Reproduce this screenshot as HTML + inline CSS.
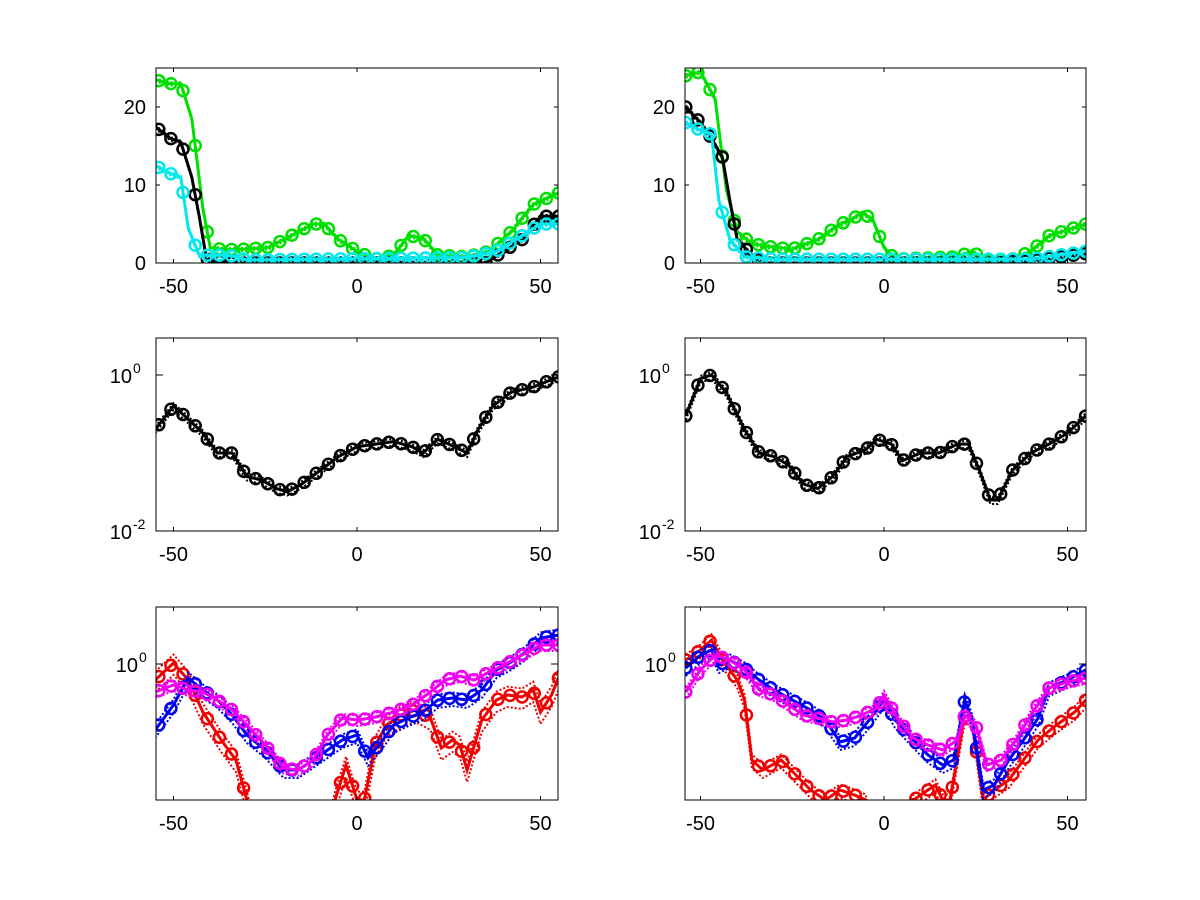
<!DOCTYPE html>
<html><head><meta charset="utf-8"><style>
html,body{margin:0;padding:0;background:#fff;}
svg{display:block;font-family:"Liberation Sans",sans-serif;}
</style></head><body>
<svg id="s" width="1200" height="900" xmlns="http://www.w3.org/2000/svg"></svg>
<script>
const S=document.getElementById('s');let html='';
const cols=[{x0:156,x1:558,c0:357},{x0:685,x1:1086,c0:884}];
const rows=[{y0:68,y1:263},{y0:338,y1:531},{y0:607,y1:800}];
const K=3.67;
function X(c,x){return cols[c].c0+x*K;}
function Yr(r,v){
 if(r==0)return 263-v*7.8;
 if(r==1)return 375-Math.log10(v)*78;
 return v;}
let cid=0;
function series(c,r,pts,color,dotOff){
 const id='cp'+(cid++);
 const C=cols[c],R=rows[r];
 html+=`<clipPath id="${id}"><rect x="${C.x0}" y="${R.y0}" width="${C.x1-C.x0}" height="${R.y1-R.y0}"/></clipPath><g clip-path="url(#${id})">`;
 const P=pts.map(p=>[X(c,p[0]),Yr(r,p[1])]);
 const s=P.map(p=>p[0].toFixed(1)+','+p[1].toFixed(1)).join(' ');
 const s2=P.map(p=>p[0].toFixed(1)+','+(p[1]+dotOff).toFixed(1)).join(' ');
 const s3=P.map(p=>p[0].toFixed(1)+','+(p[1]-dotOff*0.7).toFixed(1)).join(' ');
 html+=`<polyline points="${s2}" fill="none" stroke="${color}" stroke-width="2" stroke-dasharray="2,2"/>`;
 html+=`<polyline points="${s3}" fill="none" stroke="${color}" stroke-width="2" stroke-dasharray="2,2"/>`;
 html+=`<polyline points="${s}" fill="none" stroke="${color}" stroke-width="3"/>`;
 for(let x=-54;x<=55;x+=3.3){
  let y=null;
  for(let i=0;i<pts.length-1;i++){if(x>=pts[i][0]&&x<=pts[i+1][0]){const t=(x-pts[i][0])/(pts[i+1][0]-pts[i][0]);
   const a=Yr(r,pts[i][1]),b=Yr(r,pts[i+1][1]);y=a+(b-a)*t;break;}}
  if(y!==null)html+=`<circle cx="${X(c,x).toFixed(1)}" cy="${y.toFixed(1)}" r="5.5" fill="none" stroke="${color}" stroke-width="2.5"/>`;
 }
 html+='</g>';
}
// row 0
series(0,0,[[-55,23.5],[-51,23],[-48,23],[-45,18.5],[-42,7],[-40,2],[-36,1.7],[-30,1.8],[-24,2],[-18,3.5],[-12,5],[-9,5],[-5,3],[0,1.5],[5,0.5],[10,1],[14,3.5],[18,3.2],[22,1],[30,0.8],[36,1.5],[42,4],[48,7.5],[55,9]],'#00e000',2);
series(0,0,[[-55,17.5],[-51,16],[-48,15.5],[-45,11],[-43,6],[-41,0.5],[-35,0],[35,0],[40,1.5],[45,3],[50,6],[55,6]],'#000',2);
series(0,0,[[-55,12.5],[-51,11.5],[-48,11],[-46,4.5],[-43,1],[-35,1],[-30,0.4],[30,0.7],[38,1.5],[45,3.5],[50,5],[55,5]],'#00e8f0',2);
series(1,0,[[-54,24],[-50,24.5],[-46,21],[-43,9.5],[-40,4],[-36,2.5],[-30,2],[-25,1.8],[-18,3],[-12,5],[-9,5.5],[-6,6.5],[-3,5.5],[0,2],[3,0.5],[20,0.8],[24,1.5],[28,0.3],[35,0.5],[40,1.5],[45,3.5],[55,5]],'#00e000',2);
series(1,0,[[-54,20],[-50,18],[-47,16],[-44,13.5],[-42,8],[-40,3],[-36,1],[-33,0],[30,0],[40,0.3],[55,1.2]],'#000',2);
series(1,0,[[-54,18],[-50,17],[-47,16.5],[-45,8],[-42,3],[-38,0.8],[-30,0.5],[40,0.5],[55,1.5]],'#00e8f0',2);
// row 1
series(0,1,[[-55,0.2],[-50,0.4],[-47,0.3],[-42,0.18],[-38,0.1],[-34,0.1],[-30,0.05],[-26,0.045],[-22,0.035],[-19,0.032],[-15,0.04],[-10,0.06],[-5,0.09],[0,0.12],[5,0.13],[10,0.14],[15,0.12],[18,0.1],[22,0.15],[25,0.13],[30,0.1],[33,0.2],[37,0.4],[42,0.6],[48,0.7],[55,0.95]],'#000',4);
series(1,1,[[-54,0.3],[-50,0.9],[-47,1.0],[-43,0.6],[-38,0.2],[-34,0.1],[-30,0.09],[-26,0.07],[-22,0.04],[-18,0.035],[-14,0.05],[-10,0.09],[-5,0.11],[-2,0.15],[2,0.13],[5,0.08],[10,0.1],[15,0.1],[20,0.13],[23,0.13],[26,0.06],[29,0.025],[31,0.025],[35,0.06],[40,0.1],[45,0.13],[50,0.18],[55,0.3]],'#000',4);
// row 2
series(0,2,[[-55,680],[-50,663],[-46,680],[-42,712],[-37,740],[-33,760],[-30,800],[-28,830],[-8,830],[-6,800],[-3,765],[0,800],[2,800],[5,745],[8,725],[12,715],[16,710],[20,718],[23,748],[26,740],[28,745],[30,770],[34,720],[38,700],[41,695],[45,697],[48,690],[50,712],[53,695],[55,677]],'#f00000',12);
series(0,2,[[-55,730],[-50,705],[-46,678],[-42,690],[-38,700],[-34,715],[-30,735],[-25,750],[-20,770],[-16,770],[-12,760],[-8,750],[-4,740],[0,735],[3,758],[6,745],[10,725],[14,718],[18,712],[22,700],[26,698],[30,700],[34,690],[38,670],[42,662],[46,652],[50,638],[55,635]],'#0000f0',8);
series(0,2,[[-55,692],[-50,685],[-46,690],[-42,692],[-38,700],[-34,710],[-30,725],[-25,745],[-20,768],[-16,770],[-12,760],[-8,735],[-4,718],[0,720],[4,718],[10,712],[15,705],[20,692],[24,680],[28,676],[32,680],[36,672],[40,665],[45,655],[50,645],[55,645]],'#f000f0',6);
series(1,2,[[-54,660],[-50,650],[-47,640],[-44,660],[-40,680],[-38,700],[-36,760],[-33,770],[-28,760],[-24,775],[-20,790],[-16,800],[-12,790],[-8,795],[-5,800],[-3,830],[6,830],[8,800],[12,790],[14,785],[16,800],[18,800],[22,715],[24,720],[27,800],[30,790],[34,780],[38,760],[42,740],[47,725],[52,712],[55,700]],'#f00000',8);
series(1,2,[[-54,668],[-50,655],[-47,650],[-45,665],[-42,660],[-38,668],[-34,680],[-30,690],[-25,700],[-20,710],[-16,720],[-12,742],[-8,738],[-4,720],[0,700],[3,720],[8,740],[12,755],[16,765],[19,760],[22,700],[24,720],[27,790],[30,785],[34,760],[38,740],[42,718],[45,688],[50,680],[55,670]],'#0000f0',8);
series(1,2,[[-54,692],[-50,670],[-46,655],[-42,660],[-38,670],[-34,690],[-30,695],[-26,705],[-22,715],[-18,718],[-14,722],[-10,720],[-6,715],[-2,708],[0,695],[4,720],[8,738],[12,745],[16,750],[20,740],[22,715],[25,725],[28,765],[32,760],[36,740],[40,715],[45,688],[50,682],[55,678]],'#f000f0',6);
// axes
for(let c=0;c<2;c++)for(let r=0;r<3;r++){
 const C=cols[c],R=rows[r];
 html+=`<rect x="${C.x0}" y="${R.y0}" width="${C.x1-C.x0}" height="${R.y1-R.y0}" fill="none" stroke="#000" stroke-width="1"/>`;
 for(const t of [-50,0,50]){const x=X(c,t);
  html+=`<line x1="${x}" y1="${R.y1}" x2="${x}" y2="${R.y1-4}" stroke="#000"/><line x1="${x}" y1="${R.y0}" x2="${x}" y2="${R.y0+4}" stroke="#000"/>`;
  html+=`<text x="${x}" y="${R.y1+30}" font-size="20" text-anchor="middle">${t<0?'-50':t}</text>`;}
 if(r==0){for(const v of [0,10,20]){const y=263-v*7.8;
  html+=`<line x1="${C.x0}" y1="${y}" x2="${C.x0+4}" y2="${y}" stroke="#000"/><line x1="${C.x1}" y1="${y}" x2="${C.x1-4}" y2="${y}" stroke="#000"/>`;
  html+=`<text x="${C.x0-10}" y="${y+7}" font-size="20" text-anchor="end">${v}</text>`;}}
 else if(r==1){for(const [e,y] of [[0,375],[-2,531]]){
  html+=`<line x1="${C.x0}" y1="${y}" x2="${C.x0+7}" y2="${y}" stroke="#000"/><line x1="${C.x1}" y1="${y}" x2="${C.x1-7}" y2="${y}" stroke="#000"/>`;
  html+=`<text x="${C.x0-24}" y="${y+8}" font-size="20" text-anchor="end">10</text><text x="${C.x0-23}" y="${y-2}" font-size="14">${e}</text>`;}}
 else{const y=664;
  html+=`<line x1="${C.x0}" y1="${y}" x2="${C.x0+7}" y2="${y}" stroke="#000"/><line x1="${C.x1}" y1="${y}" x2="${C.x1-7}" y2="${y}" stroke="#000"/>`;
  html+=`<text x="${C.x0-18}" y="${y+8}" font-size="20" text-anchor="end">10</text><text x="${C.x0-17}" y="${y-2}" font-size="14">0</text>`;}
}
S.innerHTML=html;
</script>
</body></html>
